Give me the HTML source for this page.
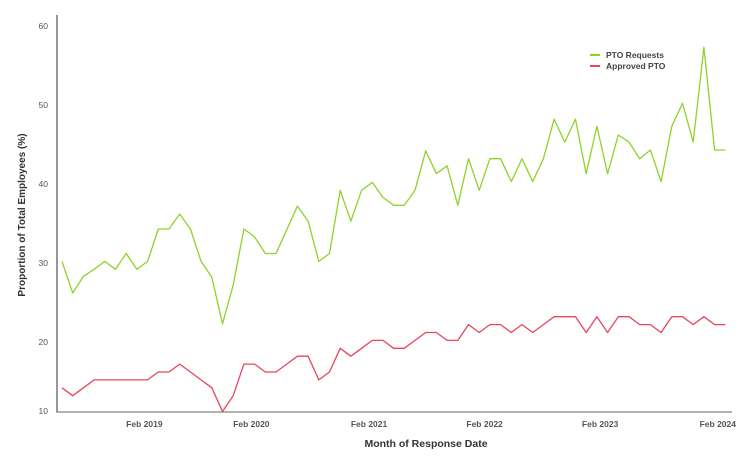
<!DOCTYPE html>
<html><head><meta charset="utf-8"><style>
html,body{margin:0;padding:0;background:#fff}
svg{display:block;font-family:"Liberation Sans",sans-serif}
</style></head><body>
<svg id="chart" width="750" height="466" viewBox="0 0 750 466" xmlns="http://www.w3.org/2000/svg">
<g id="axes"></g><g id="series"></g>
<g>
<line x1="590" y1="55" x2="600" y2="55" stroke="#8fd32a" stroke-width="2"/>
<text x="606" y="58" font-size="8.5" font-weight="bold" fill="#444">PTO Requests</text>
<line x1="590" y1="66" x2="600" y2="66" stroke="#e8455f" stroke-width="2"/>
<text x="606" y="69" font-size="8.5" font-weight="bold" fill="#444">Approved PTO</text>
</g>
<text x="426" y="447" text-anchor="middle" font-size="10.5" font-weight="bold" fill="#333">Month of Response Date</text>
<text transform="translate(25,215) rotate(-90)" text-anchor="middle" font-size="10" font-weight="bold" fill="#333">Proportion of Total Employees (%)</text>
</svg>
<script>
const ptoRequests=[30.2,26.2,28.3,29.2,30.2,29.2,31.2,29.2,30.2,34.3,34.3,36.2,34.3,30.2,28.2,22.3,27.2,34.3,33.3,31.2,31.2,34.2,37.2,35.3,30.2,31.2,39.2,35.3,39.2,40.2,38.3,37.3,37.3,39.2,44.2,41.3,42.3,37.3,43.2,39.2,43.2,43.2,40.3,43.2,40.3,43.2,48.2,45.3,48.2,41.3,47.3,41.3,46.2,45.3,43.2,44.3,40.3,47.3,50.2,45.3,57.3,44.3,44.3];
const approvedPto=[14.2,13.2,14.2,15.2,15.2,15.2,15.2,15.2,15.2,16.2,16.2,17.2,16.2,15.2,14.2,11.2,13.2,17.2,17.2,16.2,16.2,17.2,18.2,18.2,15.2,16.2,19.2,18.2,19.2,20.2,20.2,19.2,19.2,20.2,21.2,21.2,20.2,20.2,22.2,21.2,22.2,22.2,21.2,22.2,21.2,22.2,23.2,23.2,23.2,21.2,23.2,21.2,23.2,23.2,22.2,22.2,21.2,23.2,23.2,22.2,23.2,22.2,22.2];
const yTicks=[20,30,40,50,60];
const yMinLabel="10";
const xTickLabels=["Feb 2019","Feb 2020","Feb 2021","Feb 2022","Feb 2023","Feb 2024"];
const xTickIndex=[7.7,17.7,28.7,39.5,50.3,61.3];

const NS="http://www.w3.org/2000/svg";
const x0=62,x1=725.3,n=ptoRequests.length;
function xs(i){return x0+(x1-x0)*i/(n-1);}
function ys(v){return 342-(v-20)*7.9;}
const axes=document.getElementById('axes'),series=document.getElementById('series');
function mk(tag,attrs,parent){const e=document.createElementNS(NS,tag);for(const k in attrs)e.setAttribute(k,attrs[k]);parent.appendChild(e);return e;}
const yl=mk('line',{x1:57,y1:15,x2:57,y2:412,stroke:'#777','stroke-width':1.5},axes);


const xl=mk('line',{x1:56,y1:412,x2:732,y2:412,stroke:'#999','stroke-width':1.5},axes);


yTicks.forEach(v=>{const t=mk('text',{x:48,y:ys(v)+3,'text-anchor':'end','font-size':8.5,fill:'#555'},axes);t.textContent=v;

});
const t10=mk('text',{x:48,y:414,'text-anchor':'end','font-size':8.5,fill:'#555'},axes);t10.textContent=yMinLabel;


xTickLabels.forEach((l,k)=>{const t=mk('text',{x:xs(xTickIndex[k]),y:427,'text-anchor':'middle','font-size':8.5,'font-weight':'bold',fill:'#555'},axes);t.textContent=l;

});
function line(vals,color,name){const d=vals.map((v,i)=>(i?'L':'M')+xs(i).toFixed(1)+','+ys(v).toFixed(1)).join('');
const p=mk('path',{d:d,fill:'none',stroke:color,'stroke-width':1.3,'stroke-linejoin':'round'},series);

}
line(ptoRequests,'#8fd32a','pto-requests-line');
line(approvedPto,'#e8455f','approved-pto-line');
</script>
</body></html>
